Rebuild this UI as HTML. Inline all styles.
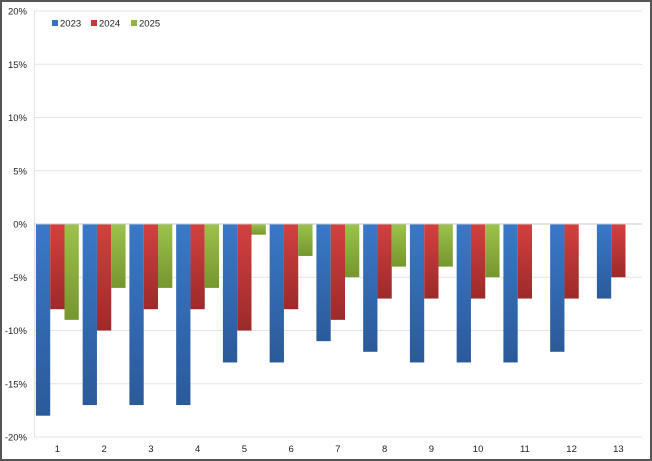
<!DOCTYPE html>
<html><head><meta charset="utf-8"><style>
html,body{margin:0;padding:0;background:#fff;}
svg{display:block;font-family:"Liberation Sans",sans-serif;}
</style></head><body>
<svg width="652" height="461" viewBox="0 0 652 461">
<defs>
<linearGradient id="gb" x1="0" y1="0" x2="0" y2="1"><stop offset="0" stop-color="#3a78c8"/><stop offset="1" stop-color="#2b5a99"/></linearGradient>
<linearGradient id="gr" x1="0" y1="0" x2="0" y2="1"><stop offset="0" stop-color="#d44040"/><stop offset="1" stop-color="#9c2a2a"/></linearGradient>
<linearGradient id="gg" x1="0" y1="0" x2="0" y2="1"><stop offset="0" stop-color="#9cc24c"/><stop offset="1" stop-color="#76962e"/></linearGradient>
</defs>
<rect x="1" y="1" width="650" height="459" fill="#fff" stroke="#555" stroke-width="2"/>
<g stroke="#e3e3e3" stroke-width="1">
<line x1="34" x2="642" y1="11" y2="11"/><line x1="34" x2="642" y1="64.25" y2="64.25"/>
<line x1="34" x2="642" y1="117.5" y2="117.5"/><line x1="34" x2="642" y1="170.75" y2="170.75"/>
<line x1="34" x2="642" y1="277.25" y2="277.25"/><line x1="34" x2="642" y1="330.5" y2="330.5"/>
<line x1="34" x2="642" y1="383.75" y2="383.75"/><line x1="34" x2="642" y1="437" y2="437"/>
<line x1="34.5" x2="34.5" y1="11" y2="437"/>
</g>
<g fill="url(#gb)">
<rect x="35.9" y="224" width="14.3" height="191.7"/>
<rect x="82.65" y="224" width="14.3" height="181.05"/>
<rect x="129.4" y="224" width="14.3" height="181.05"/>
<rect x="176.15" y="224" width="14.3" height="181.05"/>
<rect x="222.9" y="224" width="14.3" height="138.45"/>
<rect x="269.65" y="224" width="14.3" height="138.45"/>
<rect x="316.4" y="224" width="14.3" height="117.15"/>
<rect x="363.15" y="224" width="14.3" height="127.8"/>
<rect x="409.9" y="224" width="14.3" height="138.45"/>
<rect x="456.65" y="224" width="14.3" height="138.45"/>
<rect x="503.4" y="224" width="14.3" height="138.45"/>
<rect x="550.15" y="224" width="14.3" height="127.8"/>
<rect x="596.9" y="224" width="14.3" height="74.55"/>
</g>
<g fill="url(#gr)">
<rect x="50.2" y="224" width="14.3" height="85.2"/>
<rect x="96.95" y="224" width="14.3" height="106.5"/>
<rect x="143.7" y="224" width="14.3" height="85.2"/>
<rect x="190.45" y="224" width="14.3" height="85.2"/>
<rect x="237.2" y="224" width="14.3" height="106.5"/>
<rect x="283.95" y="224" width="14.3" height="85.2"/>
<rect x="330.7" y="224" width="14.3" height="95.85"/>
<rect x="377.45" y="224" width="14.3" height="74.55"/>
<rect x="424.2" y="224" width="14.3" height="74.55"/>
<rect x="470.95" y="224" width="14.3" height="74.55"/>
<rect x="517.7" y="224" width="14.3" height="74.55"/>
<rect x="564.45" y="224" width="14.3" height="74.55"/>
<rect x="611.2" y="224" width="14.3" height="53.25"/>
</g>
<g fill="url(#gg)">
<rect x="64.5" y="224" width="14.3" height="95.85"/>
<rect x="111.25" y="224" width="14.3" height="63.9"/>
<rect x="158" y="224" width="14.3" height="63.9"/>
<rect x="204.75" y="224" width="14.3" height="63.9"/>
<rect x="251.5" y="224" width="14.3" height="10.65"/>
<rect x="298.25" y="224" width="14.3" height="31.95"/>
<rect x="345" y="224" width="14.3" height="53.25"/>
<rect x="391.75" y="224" width="14.3" height="42.6"/>
<rect x="438.5" y="224" width="14.3" height="42.6"/>
<rect x="485.25" y="224" width="14.3" height="53.25"/>
</g>
<line x1="34" x2="642" y1="224" y2="224" stroke="#c8c8c8" stroke-width="1"/>
<g font-size="9.5" fill="#222" text-anchor="end">
<text x="27" y="14.5">20%</text><text x="27" y="67.75">15%</text><text x="27" y="121">10%</text>
<text x="27" y="174.25">5%</text><text x="27" y="227.5">0%</text><text x="27" y="280.75">-5%</text>
<text x="27" y="334">-10%</text><text x="27" y="387.25">-15%</text><text x="27" y="440.5">-20%</text>
</g>
<g font-size="9.5" fill="#222" text-anchor="middle">
<text x="57.4" y="452">1</text><text x="104.1" y="452">2</text><text x="150.9" y="452">3</text>
<text x="197.6" y="452">4</text><text x="244.4" y="452">5</text><text x="291.1" y="452">6</text>
<text x="337.9" y="452">7</text><text x="384.6" y="452">8</text><text x="431.4" y="452">9</text>
<text x="478.1" y="452">10</text><text x="524.9" y="452">11</text><text x="571.6" y="452">12</text>
<text x="618.4" y="452">13</text>
</g>
<g font-size="9.5" fill="#222">
<rect x="52" y="20" width="6" height="6" fill="#3a70c0"/><text x="60" y="26.5">2023</text>
<rect x="91" y="20" width="6" height="6" fill="#c83838"/><text x="99" y="26.5">2024</text>
<rect x="131" y="20" width="6" height="6" fill="#8fb440"/><text x="139" y="26.5">2025</text>
</g>
</svg>
</body></html>
